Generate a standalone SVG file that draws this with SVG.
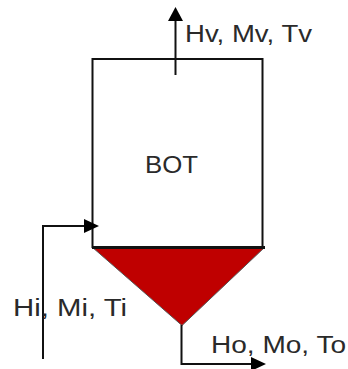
<svg xmlns="http://www.w3.org/2000/svg" width="348" height="369" viewBox="0 0 348 369">
<style>
.l{fill:none;stroke:#111;stroke-width:2}
.a{fill:#000}
text{font-family:"Liberation Sans",Arial,sans-serif;font-size:23px;fill:#2a2a2a}
</style>
<rect width="348" height="369" fill="#fff"/>
<g id="column"><rect class="l" x="92.5" y="59" width="170" height="188"/></g>
<g id="bottom"><polygon points="92,247 265,247 182,325.500" fill="#bf0000" stroke="#555" stroke-width="1"/><line x1="92" y1="247.500" x2="265" y2="247.500" stroke="#111" stroke-width="3"/></g>
<g id="connectors">
<path class="l" d="M175.500 75V20"/><polygon class="a" points="175.500,7 168,21 183,21"/>
<path class="l" d="M43 359V226H85"/><polygon class="a" points="99,226 84,219 84,233"/>
<path class="l" d="M181.500 325V364H252"/><polygon class="a" points="266,364 251,357 251,371"/>
</g>
<g id="labels">
<text x="185" y="41.500" textLength="127" lengthAdjust="spacingAndGlyphs">Hv, Mv, Tv</text>
<text x="145" y="172.500" textLength="53" lengthAdjust="spacingAndGlyphs">BOT</text>
<text x="13" y="316" textLength="114" lengthAdjust="spacingAndGlyphs">Hi, Mi, Ti</text>
<text x="211" y="353" textLength="135" lengthAdjust="spacingAndGlyphs">Ho, Mo, To</text>
</g>
</svg>
